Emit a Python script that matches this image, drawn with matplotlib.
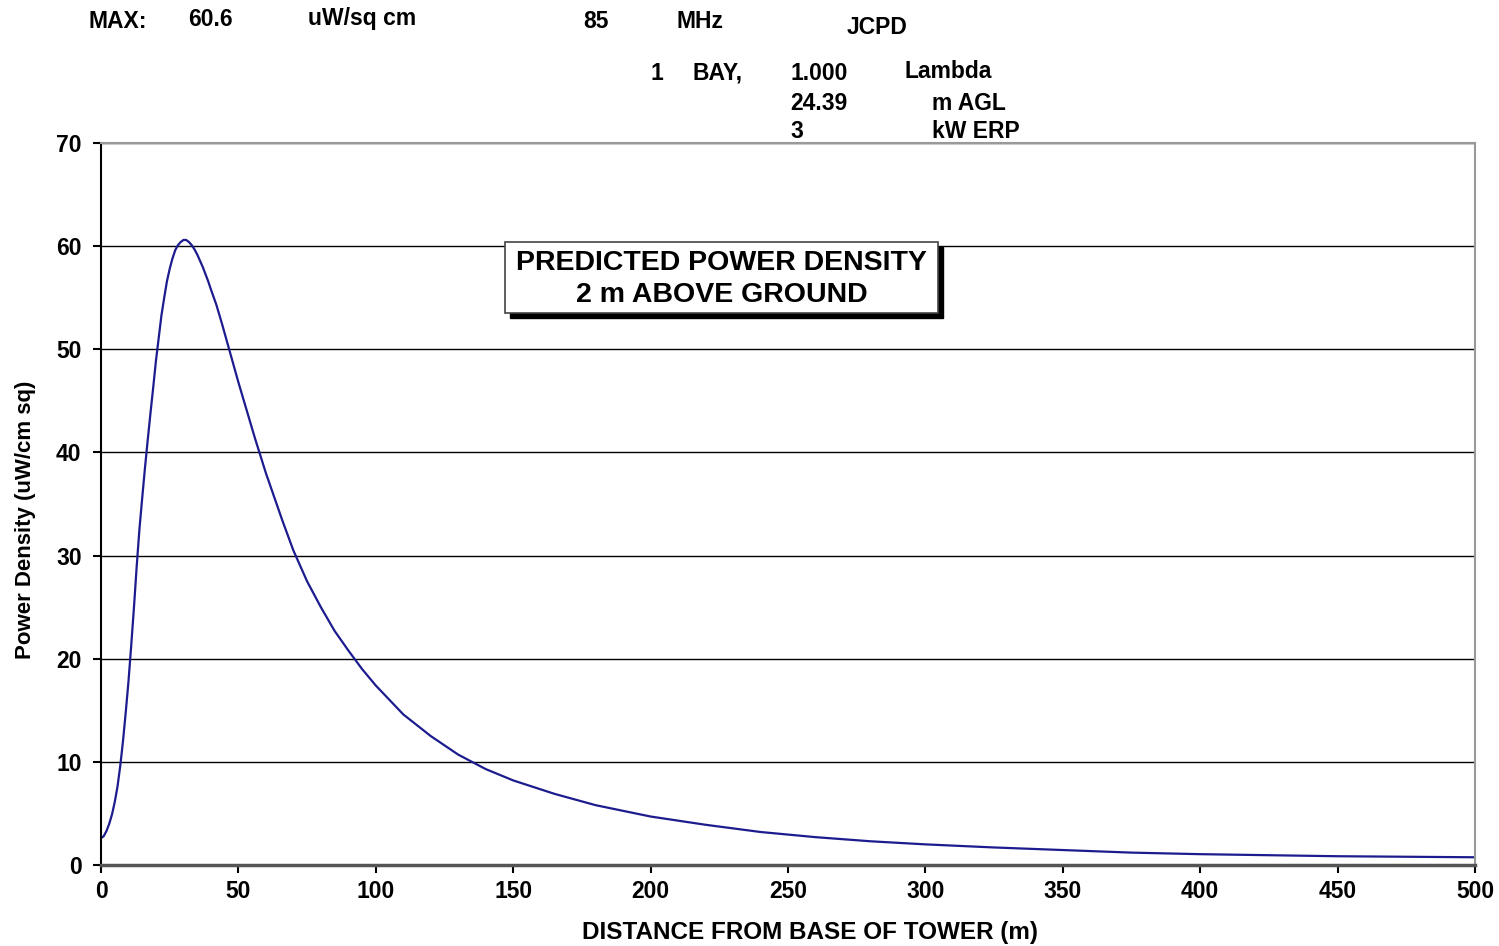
import matplotlib.pyplot as plt
from matplotlib.patches import Rectangle

# distance from tower base (m) and predicted power density (uW/cm sq)
distance = [0, 1, 2, 3, 4, 5, 6, 7, 8, 9, 10, 11, 12, 13, 14, 15, 16, 17, 18, 19, 20,
            21, 22, 23, 24, 25, 26, 27, 28, 29, 30, 31, 32, 33, 34, 35, 36, 37, 38,
            39, 40, 42, 44, 46, 48, 50, 52, 54, 56, 58, 60, 63, 66, 70, 75, 80, 85,
            90, 95, 100, 110, 120, 130, 140, 150, 165, 180, 200, 220, 240, 260, 280,
            300, 325, 350, 375, 400, 425, 450, 475, 500]
density = [2.6, 2.8, 3.3, 4.0, 4.9, 6.1, 7.6, 9.6, 12.0, 14.8, 17.8, 21.3, 25.0,
           29.0, 32.6, 35.6, 38.5, 41.2, 43.8, 46.3, 48.9, 51.1, 53.3, 55.0, 56.6,
           57.8, 58.8, 59.6, 60.1, 60.4, 60.6, 60.6, 60.4, 60.1, 59.7, 59.2, 58.6,
           58.0, 57.3, 56.6, 55.8, 54.3, 52.5, 50.6, 48.7, 46.8, 45.0, 43.2, 41.4,
           39.7, 38.0, 35.7, 33.4, 30.5, 27.5, 25.0, 22.7, 20.8, 19.0, 17.4, 14.6,
           12.5, 10.7, 9.3, 8.2, 6.9, 5.8, 4.7, 3.9, 3.2, 2.7, 2.3, 2.0, 1.7, 1.45,
           1.2, 1.05, 0.95, 0.85, 0.8, 0.75]

x_ticks = list(range(0, 501, 50))
y_ticks = list(range(0, 71, 10))

plt.rcParams['font.family'] = ['Liberation Sans', 'DejaVu Sans']
plt.rcParams['font.weight'] = 'bold'

W, H = 1499, 946
fig = plt.figure(figsize=(W / 100, H / 100), dpi=100)
ax = fig.add_axes([101 / W, 1 - 865 / H, (1475 - 101) / W, (865 - 143) / H])

ax.plot(distance, density, color='#1c1c8e', lw=1.6)

ax.set_xlim(0, 500)
ax.set_ylim(0, 70)
ax.set_xticks(x_ticks)
ax.set_yticks(y_ticks)
ax.tick_params(direction='out', length=6, width=1.5, labelsize=16.5, pad=8)
ax.tick_params(axis='x', pad=5)
for lab in ax.get_xticklabels() + ax.get_yticklabels():
    lab.set_fontweight('bold')
ax.grid(axis='y', color='black', lw=1)
ax.set_axisbelow(True)

ax.spines['left'].set_color('black')
ax.spines['left'].set_linewidth(1.5)
ax.spines['bottom'].set_color('#555555')
ax.spines['bottom'].set_linewidth(2.5)
ax.spines['top'].set_color('#999999')
ax.spines['right'].set_color('#999999')
ax.spines['top'].set_linewidth(1.5)
ax.spines['right'].set_linewidth(1.5)

ax.set_xlabel('DISTANCE FROM BASE OF TOWER (m)', fontsize=17.5, fontweight='bold')
ax.xaxis.set_label_coords((810 - 101) / 1374, -(921 - 865) / 722)
ax.set_ylabel('Power Density (uW/cm sq)', fontsize=16, fontweight='bold')
ax.yaxis.set_label_coords(-(101 - 36) / 1374, (865 - 520) / 722)

# header texts
def ftext(px, py, s, ha='left', size=16.5):
    fig.text(px / W, 1 - py / H, s, ha=ha, va='center', fontsize=size, fontweight='bold')

ftext(88, 21, 'MAX:')
ftext(188, 19, '60.6')
ftext(308, 19, 'uW/sq cm')
ftext(583, 21, '85')
ftext(676, 21, 'MHz')
ftext(847, 27, 'JCPD')
ftext(650, 73, '1')
ftext(693, 73, 'BAY,')
ftext(790, 73, '1.000')
ftext(905, 71, 'Lambda')
ftext(790, 103, '24.39')
ftext(932, 103, 'm AGL')
ftext(790, 131, '3')
ftext(932, 131, 'kW ERP')

# title box with drop shadow
bx, by, bw, bh = 505, 242, 433, 71
fig.patches.append(Rectangle(((bx + 5) / W, 1 - (by + bh + 5) / H), bw / W, bh / H,
                             transform=fig.transFigure, facecolor='black', edgecolor='black', zorder=3))
fig.patches.append(Rectangle((bx / W, 1 - (by + bh) / H), bw / W, bh / H,
                             transform=fig.transFigure, facecolor='white', edgecolor='#444444',
                             lw=1.2, zorder=4))
fig.text((bx + bw / 2) / W, 1 - 263 / H, 'PREDICTED POWER DENSITY', ha='center', va='center',
         fontsize=20.5, fontweight='bold', zorder=5)
fig.text((bx + bw / 2) / W, 1 - 295 / H, '2 m ABOVE GROUND', ha='center', va='center',
         fontsize=20.5, fontweight='bold', zorder=5)

fig.savefig('out.png', dpi=100)
